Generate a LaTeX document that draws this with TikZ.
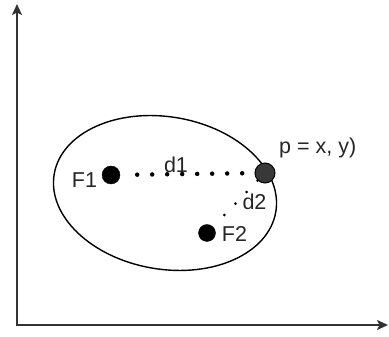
\documentclass[tikz,border=0pt]{standalone}
\usepackage{fontspec}
\setmainfont{Liberation Sans}
\usetikzlibrary{arrows.meta}
\begin{document}
\begin{tikzpicture}[x=1pt,y=1pt,
  axis/.style={line width=2pt, draw=black!80, line join=miter,
    {Stealth[length=11pt,width=10pt,inset=2.5pt]}-{Stealth[length=11pt,width=10pt,inset=2.5pt]}},
  focus/.style={circle, fill=black, draw=black, inner sep=0pt, minimum size=#1},
  ppoint/.style={circle, fill=black!78, draw=black, line width=1pt, inner sep=0pt, minimum size=20pt},
  lbl/.style={font=\fontsize{21.5}{22}\selectfont, text=black!85, inner sep=0pt},
  dist/.style={draw=black, line cap=round},
  orbit/.style={draw=black, line width=1.4pt}
]
\useasboundingbox (0,0) rectangle (389,337);
% axes
\coordinate (Y) at (17,333);
\coordinate (O) at (17,12);
\coordinate (X) at (388,12);
\draw[axis] (Y) -- (O) -- (X);
% ellipse
\draw[orbit] (165,144) ellipse [x radius=112.4, y radius=76.2, rotate=-9.7];
% points
\node[focus=18pt] (F1) at (111,162) {};
\node[focus=17pt] (F2) at (207,104) {};
\node[ppoint] (P) at (265,164) {};
% distances
\draw[dist, line width=4.5pt, dash pattern=on 0pt off 15pt, dash phase=8pt, shorten <=10pt] (F1) -- (P);
\draw[dist, line width=3pt, dash pattern=on 0pt off 16pt, shorten >=8pt] (P) -- (F2);
% labels
\node[lbl] (lF1) at (84.5,157) {F1};
\node[lbl] (lF2) at (234.5,103) {F2};
\node[lbl] (ld1) at (176,172) {d1};
\node[lbl] (ld2) at (254.5,135) {d2};
\node[lbl, anchor=west] (lP) at (279,189) {p = x, y)};
\end{tikzpicture}
\end{document}
